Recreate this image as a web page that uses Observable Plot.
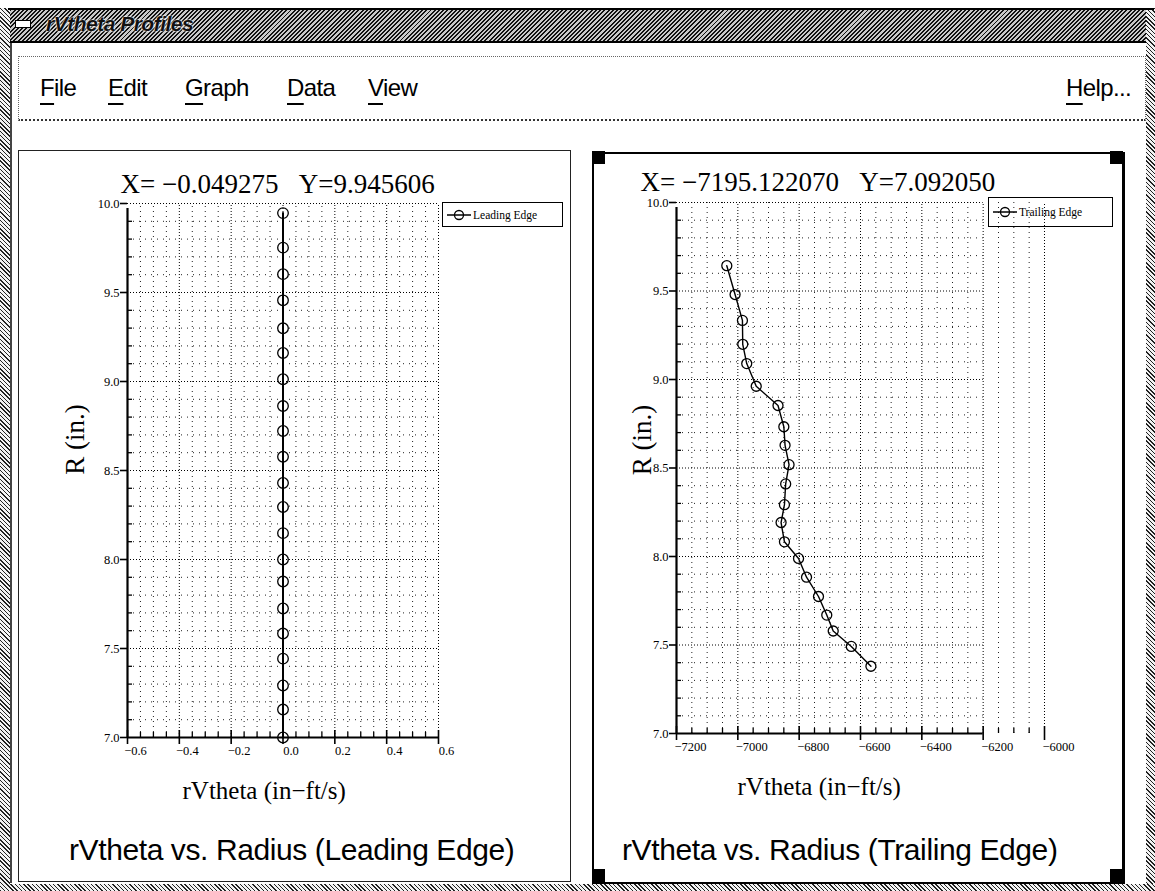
<!DOCTYPE html>
<html><head><meta charset="utf-8">
<script src="https://cdn.jsdelivr.net/npm/d3@7"></script>
<script src="https://cdn.jsdelivr.net/npm/@observablehq/plot@0.6"></script>
<style>
html,body{margin:0;padding:0;}
body{width:1155px;height:891px;overflow:hidden;background:#fff;position:relative;font-family:"Liberation Sans",Arial,sans-serif;color:#000;}
.abs{position:absolute;}
.hatch{background:repeating-linear-gradient(45deg,#222 0 1px,#f2f2f2 1px 3px);}
.hatchDark{background:repeating-linear-gradient(135deg,#111 0 1.4px,#c8c8c8 1.4px 3px);}
.menu{position:absolute;top:74px;font-size:24px;letter-spacing:-0.6px;}
.menu u{text-decoration:underline;text-underline-offset:7px;text-decoration-thickness:2px;}
.panel{position:absolute;border:1.5px solid #222;background:#fff;}
.footer{position:absolute;font-size:30px;white-space:nowrap;letter-spacing:-0.4px;}
.legend{position:absolute;border:1.5px solid #000;display:flex;align-items:center;font-family:"Liberation Serif",serif;font-size:11.5px;box-sizing:border-box;padding-left:3px;}
.corner{position:absolute;width:13px;height:13px;background:#000;}
</style></head><body>

<!-- window frame -->
<div class="abs hatch" style="left:0;top:8px;width:10px;height:883px;"></div>
<div class="abs hatch" style="left:1146px;top:8px;width:9px;height:883px;"></div>
<div class="abs hatch" style="left:0;top:884px;width:1155px;height:7px;"></div>
<div class="abs" style="left:8px;top:8px;width:1146px;height:2px;background:#000;"></div>
<div class="abs hatchDark" style="left:10px;top:10px;width:1136px;height:31px;border-bottom:2px solid #000;"></div>
<div class="abs" style="left:15px;top:20px;width:14px;height:6px;background:#fff;border:1.5px solid #000;"></div>
<div class="abs" style="left:46px;top:12px;font-size:21px;font-style:italic;font-weight:bold;color:#111;text-shadow:0 0 2px #fff,0 0 2px #fff;letter-spacing:-0.5px;">rVtheta Profiles</div>
<div class="abs" style="left:10px;top:43px;width:2px;height:840px;background:#444;"></div>

<!-- menu bar -->
<div class="abs" style="left:18px;top:56px;width:1126px;height:62px;border:1px dotted #666;border-bottom:2px dotted #333;"></div>
<div class="menu" style="left:40px;"><u>F</u>ile</div>
<div class="menu" style="left:108px;"><u>E</u>dit</div>
<div class="menu" style="left:185px;"><u>G</u>raph</div>
<div class="menu" style="left:287px;"><u>D</u>ata</div>
<div class="menu" style="left:368px;"><u>V</u>iew</div>
<div class="menu" style="left:1066px;"><u>H</u>elp...</div>

<!-- panels -->
<div class="panel" style="left:18px;top:150px;width:551px;height:730px;"></div>
<div class="panel" style="left:592px;top:152px;width:528px;height:728px;border:2px solid #000;border-right-width:3px;"></div>
<div class="corner" style="left:592px;top:151px;"></div>
<div class="corner" style="left:1110px;top:151px;"></div>
<div class="corner" style="left:592px;top:869px;"></div>
<div class="corner" style="left:1110px;top:869px;"></div>

<div id="left" class="abs" style="left:19px;top:151px;"></div>
<div id="right" class="abs" style="left:594px;top:154px;"></div>

<div class="legend" style="left:442px;top:202px;width:121px;height:25px;">
  <svg width="26" height="14"><line x1="1" y1="7" x2="25" y2="7" stroke="#000" stroke-width="1.5"/><circle cx="13" cy="7" r="4.5" fill="none" stroke="#000" stroke-width="1.3"/></svg>
  <span style="margin-left:1px;">Leading Edge</span>
</div>
<div class="legend" style="left:988px;top:197px;width:125px;height:30px;">
  <svg width="26" height="14"><line x1="1" y1="7" x2="25" y2="7" stroke="#000" stroke-width="1.5"/><circle cx="13" cy="7" r="4.5" fill="none" stroke="#000" stroke-width="1.3"/></svg>
  <span style="margin-left:1px;">Trailing Edge</span>
</div>

<div class="footer" style="left:69px;top:833px;">rVtheta vs. Radius (Leading Edge)</div>
<div class="footer" style="left:622px;top:833px;">rVtheta vs. Radius (Trailing Edge)</div>

<script>
// ---- data ----
const leadX = [0,0,0,0,0,0,0,0,0,0,0,0,0,0,0,0,0,0,0,0,0];
const leadR = [9.946,9.752,9.603,9.456,9.299,9.160,9.013,8.862,8.722,8.577,8.430,8.295,8.148,8.000,7.876,7.725,7.584,7.443,7.292,7.157,7.000];

const trailX = [-7036,-7009,-6985,-6984,-6971,-6940,-6869,-6850,-6846,-6833,-6844,-6848,-6859,-6848,-6802,-6776,-6737,-6710,-6689,-6630,-6566];
const trailR = [9.643,9.480,9.334,9.199,9.090,8.962,8.853,8.733,8.628,8.519,8.410,8.293,8.192,8.083,7.989,7.883,7.774,7.669,7.579,7.492,7.380];

const yTicks = [7.0,7.5,8.0,8.5,9.0,9.5,10.0];
const leadXTicks = [-0.6,-0.4,-0.2,0.0,0.2,0.4,0.6];
const trailXTicks = [-7200,-7000,-6800,-6600,-6400,-6200,-6000];

const leadTitle = "X= \u22120.049275\u00a0\u00a0\u00a0Y=9.945606";
const trailTitle = "X= \u22127195.122070\u00a0\u00a0\u00a0Y=7.092050";
const xLabel = "rVtheta (in\u2212ft/s)";
const yLabel = "R (in.)";

const serif = "'Liberation Serif','Times New Roman',serif";

function minorBetween(ticks, n) {
  const out = [];
  for (let i = 0; i < ticks.length - 1; i++) {
    const step = (ticks[i+1] - ticks[i]) / n;
    for (let k = 1; k < n; k++) out.push(ticks[i] + k * step);
  }
  return out;
}

function chart(cfg) {
  const data = cfg.xs.map((x, i) => ({x, y: cfg.ys[i]}));
  const x0 = cfg.xDomain[0];
  const yMin = yTicks[0], yMax = yTicks[yTicks.length - 1];
  const xMinor = minorBetween(cfg.xTicks, 4);
  const yMinor = minorBetween(yTicks, 5);
  return Plot.plot({
    width: cfg.width, height: cfg.height,
    marginLeft: cfg.ml, marginRight: cfg.mr, marginTop: cfg.mt, marginBottom: cfg.mb,
    x: {domain: cfg.xDomain},
    y: {domain: [yMin, yMax]},
    style: {background: "transparent", fontFamily: serif, fontSize: "12px", overflow: "visible"},
    marks: [
      // minor grid
      Plot.ruleY(yMinor, {x1: x0, x2: cfg.xGridEnd, stroke: "#222", strokeDasharray: "1,5"}),
      Plot.ruleX(xMinor, {y1: yMin, y2: yMax, stroke: "#222", strokeDasharray: "1,4"}),
      // major grid
      Plot.ruleY(yTicks.filter(v => v > yMin), {x1: x0, x2: cfg.xGridEnd, stroke: "#000", strokeDasharray: "1,2"}),
      Plot.ruleX(cfg.xTicks.filter(v => v > x0), {y1: yMin, y2: yMax, stroke: "#000", strokeDasharray: "1,2"}),
      // axis lines
      Plot.ruleX([x0], {y1: yMin, y2: yMax, stroke: "#000", strokeWidth: 2.2, insetBottom: -5}),
      Plot.ruleY([yMin], {x1: x0, x2: cfg.xGridEnd, stroke: "#000", strokeWidth: 2.2}),
      // tick marks
      Plot.ruleX(cfg.xTicks, {y1: yMin, y2: yMin, insetTop: -7, insetBottom: -7, stroke: "#000", strokeWidth: 1.6}),
      Plot.ruleX(xMinor, {y1: yMin, y2: yMin, insetTop: -5, stroke: "#000", strokeWidth: 1.3}),
      Plot.ruleY(yMinor, {x1: x0, x2: x0, insetRight: -5, stroke: "#000", strokeWidth: 1.3}),
      Plot.axisY({ticks: yTicks, tickSize: 7, tickPadding: 1, tickFormat: d3.format(".1f"), label: null, fontSize: 12.5, strokeWidth: 1.6}),
      Plot.axisX({ticks: cfg.xTicks, tickSize: 0, tickPadding: 9, dx: cfg.tickDx, tickFormat: cfg.xFmt, label: null, fontSize: 12.5}),
      // data
      Plot.line(data, {x: "x", y: "y", stroke: "#000", strokeWidth: cfg.lw}),
      Plot.dot(data, {x: "x", y: "y", r: cfg.r, stroke: "#000", fill: "none", strokeWidth: 1.3}),
      // texts
      Plot.text([cfg.title], {frameAnchor: "top-left", textAnchor: "start", lineAnchor: "middle", dx: cfg.titleDx, dy: cfg.titleDy, fontSize: 27, fill: "#000"}),
      Plot.text([xLabel], {frameAnchor: "bottom-left", textAnchor: "start", lineAnchor: "middle", dx: cfg.xLabelDx, dy: 53, fontSize: 25, fill: "#000"}),
      Plot.text([yLabel], {frameAnchor: "left", textAnchor: "middle", lineAnchor: "middle", rotate: -90, dx: cfg.yLabelDx, dy: cfg.yLabelDy, fontSize: 27, fill: "#000"})
    ]
  });
}

document.getElementById("left").append(chart({
  xs: leadX, ys: leadR, xDomain: [leadXTicks[0], leadXTicks[leadXTicks.length-1]],
  xGridEnd: leadXTicks[leadXTicks.length-1], xTicks: leadXTicks, xFmt: d3.format(".1f"),
  width: 551, height: 700, ml: 108, mr: 132, mt: 52, mb: 114,
  tickDx: 8, lw: 2, r: 5.3,
  title: leadTitle, titleDx: -7, titleDy: -19, xLabelDx: 55, yLabelDx: -52, yLabelDy: -31
}));

document.getElementById("right").append(chart({
  xs: trailX, ys: trailR, xDomain: [trailXTicks[0], trailXTicks[trailXTicks.length-1]],
  xGridEnd: trailXTicks[trailXTicks.length-2], xTicks: trailXTicks, xFmt: d3.format("d"),
  width: 526, height: 700, ml: 82, mr: 76, mt: 48, mb: 121,
  tickDx: 14, lw: 1.4, r: 5,
  title: trailTitle, titleDx: -36, titleDy: -20, xLabelDx: 61, yLabelDx: -34, yLabelDy: -28
}));
</script>
</body></html>
